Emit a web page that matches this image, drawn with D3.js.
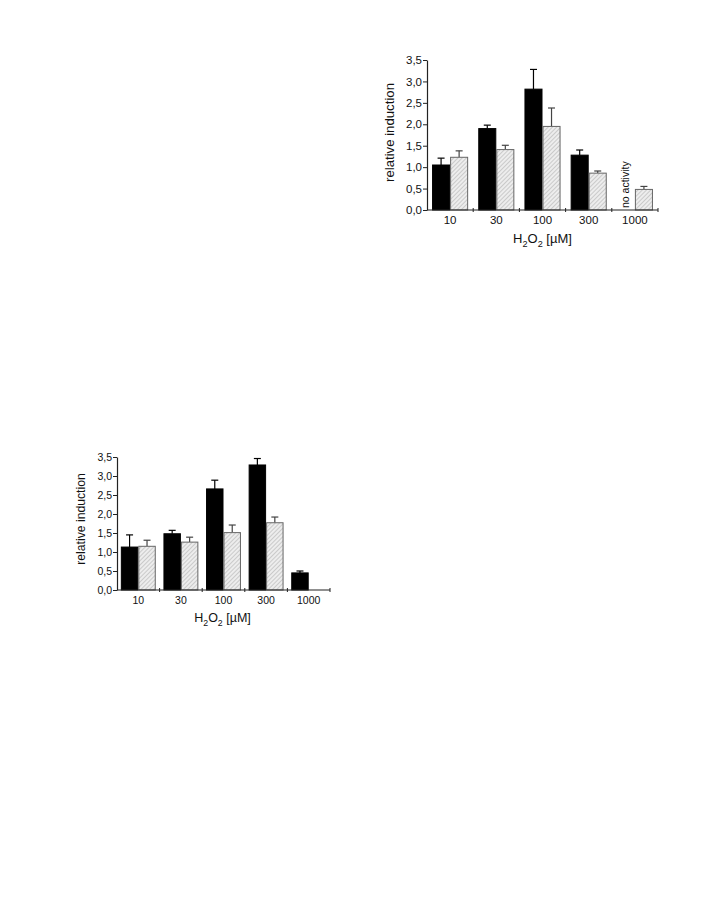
<!DOCTYPE html>
<html>
<head>
<meta charset="utf-8">
<script src="https://cdn.jsdelivr.net/npm/d3@7"></script>
<style>
  html, body { margin: 0; padding: 0; background: #fff; }
  svg { display: block; }
  text { font-family: Arial, "Liberation Sans", sans-serif; fill: #111; }
</style>
</head>
<body>
<svg id="chart" width="715" height="899"></svg>
<script>
// ---- data ----
const categories = ["10", "30", "100", "300", "1000"];
const yTickValues = [0, 0.5, 1.0, 1.5, 2.0, 2.5, 3.0, 3.5];
const yTickLabels = ["0,0", "0,5", "1,0", "1,5", "2,0", "2,5", "3,0", "3,5"];

// top chart
const topBlack       = [1.05, 1.90, 2.82, 1.28, null];
const topBlackErr    = [0.16, 0.08, 0.46, 0.12, null];
const topHatched     = [1.23, 1.41, 1.95, 0.86, 0.48];
const topHatchedErr  = [0.15, 0.10, 0.43, 0.05, 0.07];
const topNote = "no activity";

// bottom chart
const botBlack       = [1.13, 1.48, 2.66, 3.29, 0.45];
const botBlackErr    = [0.32, 0.09, 0.23, 0.17, 0.05];
const botHatched     = [1.15, 1.26, 1.51, 1.77, null];
const botHatchedErr  = [0.16, 0.13, 0.20, 0.15, null];

const svg = d3.select("#chart");

const defs = svg.append("defs");
const pat = defs.append("pattern")
  .attr("id", "hatch")
  .attr("patternUnits", "userSpaceOnUse")
  .attr("width", 3).attr("height", 3)
  .attr("patternTransform", "rotate(45)");
pat.append("rect").attr("width", 3).attr("height", 3).attr("fill", "#ededed");
pat.append("line").attr("x1", 0).attr("y1", 0).attr("x2", 0).attr("y2", 3)
  .attr("stroke", "#a8a8a8").attr("stroke-width", 1);

function drawChart(cfg) {
  const g = svg.append("g");
  const y = d3.scaleLinear().domain([0, 3.5]).range([cfg.y0, cfg.yTop]);
  const x = d3.scaleBand().domain(categories).range([cfg.x0, cfg.x1]).paddingInner(0).paddingOuter(0);
  const xs = d3.scaleBand().domain(["black", "hatched"]).range([0, x.bandwidth()])
    .paddingInner(0).paddingOuter(cfg.outerPad);

  const rows = categories.map((c, i) => ({
    cat: c,
    black: cfg.black[i], blackErr: cfg.blackErr[i],
    hatched: cfg.hatched[i], hatchedErr: cfg.hatchedErr[i]
  }));

  const series = [
    { key: "black", fill: "#000", stroke: "#000", err: "blackErr", errColor: "#000" },
    { key: "hatched", fill: "url(#hatch)", stroke: "#666", err: "hatchedErr", errColor: "#444" }
  ];
  series.forEach(s => {
    const d = rows.filter(r => r[s.key] != null);
    g.selectAll(null).data(d).enter().append("line")
      .attr("x1", r => x(r.cat) + xs(s.key) + xs.bandwidth() / 2)
      .attr("x2", r => x(r.cat) + xs(s.key) + xs.bandwidth() / 2)
      .attr("y1", r => y(r[s.key]))
      .attr("y2", r => y(r[s.key] + r[s.err]))
      .attr("stroke", s.errColor).attr("stroke-width", 1.2);
    g.selectAll(null).data(d).enter().append("line")
      .attr("x1", r => x(r.cat) + xs(s.key) + xs.bandwidth() / 2 - 3.5)
      .attr("x2", r => x(r.cat) + xs(s.key) + xs.bandwidth() / 2 + 3.5)
      .attr("y1", r => y(r[s.key] + r[s.err]))
      .attr("y2", r => y(r[s.key] + r[s.err]))
      .attr("stroke", s.errColor).attr("stroke-width", 1.2);
    g.selectAll(null).data(d).enter().append("rect")
      .attr("x", r => x(r.cat) + xs(s.key) + 0.5)
      .attr("width", xs.bandwidth() - 1)
      .attr("y", r => y(r[s.key]))
      .attr("height", r => y(0) - y(r[s.key]))
      .attr("fill", s.fill)
      .attr("stroke", s.stroke)
      .attr("stroke-width", 1);
  });

  // y axis
  const yAxis = d3.axisLeft(y).tickValues(yTickValues)
    .tickFormat((d, i) => yTickLabels[i]).tickSize(4).tickSizeOuter(0);
  const ya = g.append("g").attr("transform", `translate(${cfg.x0},0)`).call(yAxis);
  ya.select(".domain").attr("stroke", "#222").attr("stroke-width", 1.2);
  ya.selectAll(".tick line").attr("stroke", "#222");
  ya.selectAll(".tick text").attr("font-size", cfg.tickFont).attr("font-family", "Arial, 'Liberation Sans', sans-serif")
    .attr("fill", "#111").attr("x", -5);

  // x axis: line + ticks at category boundaries
  g.append("line").attr("x1", cfg.x0).attr("x2", cfg.x1).attr("y1", y(0)).attr("y2", y(0))
    .attr("stroke", "#222").attr("stroke-width", 1.2);
  const bounds = categories.slice(1).map(c => x(c)).concat([cfg.x1]);
  g.selectAll(null).data(bounds).enter().append("line")
    .attr("x1", d => d).attr("x2", d => d)
    .attr("y1", y(0) - 2).attr("y2", y(0) + 2)
    .attr("stroke", "#222").attr("stroke-width", 1);
  g.selectAll(null).data(categories).enter().append("text")
    .attr("x", c => x(c) + x.bandwidth() / 2)
    .attr("y", y(0) + cfg.xTickDy)
    .attr("text-anchor", "middle")
    .attr("font-size", cfg.tickFont)
    .attr("fill", "#111")
    .text(c => c);

  // y label
  g.append("text")
    .attr("transform", `translate(${cfg.yLabelX},${(y(0) + y(3.5)) / 2 + cfg.yLabelShift}) rotate(-90)`)
    .attr("text-anchor", "middle")
    .attr("font-size", cfg.labelFont)
    .attr("fill", "#111")
    .text("relative induction");

  // x label with subscripts
  const xl = g.append("text")
    .attr("x", (cfg.x0 + cfg.x1) / 2 + cfg.xLabelShift)
    .attr("y", y(0) + cfg.xLabelDy)
    .attr("text-anchor", "middle")
    .attr("font-size", cfg.xLabelFont)
    .attr("fill", "#111");
  xl.append("tspan").text("H");
  xl.append("tspan").attr("font-size", cfg.xLabelFont * 0.7).attr("dy", 4).text("2");
  xl.append("tspan").attr("dy", -4).text("O");
  xl.append("tspan").attr("font-size", cfg.xLabelFont * 0.7).attr("dy", 4).text("2");
  xl.append("tspan").attr("dy", -4).text(" [µM]");

  if (cfg.note) {
    rows.forEach(r => {
      if (r.black == null) {
        const cx = x(r.cat) + xs("black") + xs.bandwidth() / 2;
        g.append("text")
          .attr("transform", `translate(${cx + 3.5},${y(0) - 2}) rotate(-90)`)
          .attr("text-anchor", "start")
          .attr("font-size", cfg.noteFont)
          .attr("fill", "#111")
          .text(cfg.note);
      }
    });
  }
}

drawChart({
  x0: 427, x1: 658, y0: 210, yTop: 60, outerPad: 0.28,
  black: topBlack, blackErr: topBlackErr, hatched: topHatched, hatchedErr: topHatchedErr,
  tickFont: 11.5, labelFont: 13.2, xLabelFont: 13, noteFont: 10.5,
  xTickDy: 14, xLabelDy: 33, xLabelShift: 0, yLabelX: 394, yLabelShift: -2.5,
  note: topNote
});

drawChart({
  x0: 117, x1: 330, y0: 590, yTop: 457, outerPad: 0.22,
  black: botBlack, blackErr: botBlackErr, hatched: botHatched, hatchedErr: botHatchedErr,
  tickFont: 10.5, labelFont: 12.2, xLabelFont: 12.5, noteFont: 10,
  xTickDy: 14, xLabelDy: 32, xLabelShift: -1, yLabelX: 85, yLabelShift: -4.5,
  note: null
});
</script>
</body>
</html>
